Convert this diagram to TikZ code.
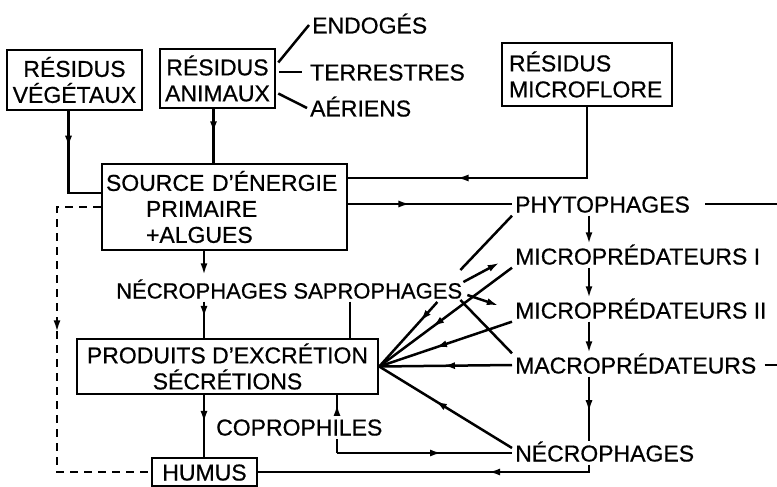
\documentclass[tikz,border=0pt]{standalone}
\usepackage{fontspec}
\setmainfont{Liberation Sans}[FakeBold=0.6]
\usetikzlibrary{arrows.meta, decorations.markings}
\newcommand{\lettering}{\fontsize{23}{26}\selectfont}
\tikzset{
    resbox/.style={
        rectangle, draw=black, line width=2.5pt, align=center,
        inner sep=3pt, font=\lettering
    },
    tag/.style={
        inner sep=3pt, text height=17pt, text depth=0pt, font=\lettering
    },
    link/.style={
        line width=2.5pt, draw=black
    },
    arrow/.style={
        link, -{Latex[length=12pt, width=7pt]}
    },
    midarrow/.style={
        link, postaction={decorate, solid},
        decoration={markings, mark=at position #1 with {\arrow{Latex[length=12pt, width=7pt]}}}
    },
    midarrow/.default=0.5,
    dashlink/.style={
        link, dash pattern=on 8pt off 6pt
    }
}
\begin{document}
\begin{tikzpicture}[x=1pt, y=-1pt]
    \useasboundingbox (0,0) rectangle (777,487);

    \node[resbox, minimum width=135pt, minimum height=60pt] (vege)  at (74.5,80)   {RÉSIDUS\\VÉGÉTAUX};
    \node[resbox, minimum width=115pt, minimum height=59pt] (ani)   at (217.5,78.5) {RÉSIDUS\\ANIMAUX};
    \node[resbox, minimum height=63pt, text width=156pt, inner xsep=7pt, align=left] (micro) at (587,74.5) {RÉSIDUS\\MICROFLORE};

    \node[tag, anchor=west] (endo) at (309,25)  {ENDOGÉS};
    \node[tag, anchor=west] (terr) at (307,72)  {TERRESTRES};
    \node[tag, anchor=west] (aer)  at (307,108) {AÉRIENS};

    \node[resbox, minimum width=245pt, minimum height=86pt, text width=237pt, align=left] (src) at (224.5,207)
        {SOURCE D'ÉNERGIE\\\hspace*{40pt}PRIMAIRE\\\hspace*{40pt}+ALGUES};
    \node[tag, anchor=west, font=\fontsize{22}{26}\selectfont] (necsap) at (113,290) {NÉCROPHAGES SAPROPHAGES};
    \node[resbox, minimum width=301pt, minimum height=55pt] (prod) at (227.5,366.5) {PRODUITS D'EXCRÉTION\\SÉCRÉTIONS};
    \node[resbox, tag, minimum width=105pt, minimum height=28pt] (humus) at (204.5,472) {HUMUS};

    \node[tag, anchor=west] (phyto) at (512,204) {PHYTOPHAGES};
    \node[tag, anchor=west] (micA)  at (512,256) {MICROPRÉDATEURS I};
    \node[tag, anchor=west] (micB)  at (512,310) {MICROPRÉDATEURS II};
    \node[tag, anchor=west] (macro) at (512,365) {MACROPRÉDATEURS};
    \node[tag, anchor=west] (necro) at (512,453) {NÉCROPHAGES};

    \coordinate (spine)  at (204,0);
    \coordinate (sapx)   at (350,0);
    \coordinate (lside)  at (57,0);
    \coordinate (colx)   at (589,0);
    \coordinate (coprox) at (337,0);
    \coordinate (rim)    at (777,0);

    % residues into the energy source
    \draw[midarrow=0.32] ([xshift=-6pt]vege.south) |- ([yshift=14pt]src.west);
    \draw[midarrow=0.45] ([xshift=-4pt]ani.south) -- ([xshift=-4pt]ani.south |- src.north);
    \draw[midarrow=0.65] (micro.south) |- ([yshift=29pt]src.east);
    \draw[link] ([shift={(2,-16)}]ani.east) -- (endo.west);
    \draw[link, shorten <=3pt, shorten >=5pt] (ani.east |- terr.west) -- (terr.west);
    \draw[link] ([shift={(2,15)}]ani.east) -- (aer.west);

    \draw[midarrow=0.38] (src.east |- phyto.west) -- (phyto.west);
    \draw[dashlink, midarrow=0.42] (src.west) -- (src.west -| lside) |- (humus.west);

    \draw[arrow, shorten >=3pt] (src.south -| spine) -- (necsap.north -| spine);
    \draw[midarrow=0.45] (necsap.south -| spine) -- (prod.north -| spine);
    \draw[link] (necsap.south -| sapx) -- (prod.north -| sapx);
    \draw[midarrow=0.45] (prod.south -| spine) -- (humus.north -| spine);

    % food chain column
    \draw[arrow] (phyto.south -| colx) -- (micA.north -| colx);
    \draw[arrow] (micA.south -| colx)  -- (micB.north -| colx);
    \draw[arrow] (micB.south -| colx)  -- (macro.north -| colx);
    \draw[midarrow=0.55] (macro.south -| colx) -- (necro.north -| colx);
    \draw[link, shorten <=12pt] (phyto.east) -- (phyto.east -| rim);
    \draw[link, shorten <=5pt] (macro.east) -- (macro.east -| rim);

    % fan towards the excretions
    \draw[link] (phyto.south west) -- ([shift={(-5,-20)}]necsap.east);
    \draw[arrow, shorten >=14pt] ([shift={(-2,-8)}]necsap.east) -- (micA.west);
    \draw[arrow, shorten >=14pt] ([shift={(2,5)}]necsap.east) -- (micB.west);
    \draw[link] ([shift={(-5,10)}]necsap.east) -- (macro.north west);
    \draw[midarrow=0.6]  (micA.south west) -- (prod.east);
    \draw[midarrow=0.3]  ([shift={(-28,12)}]necsap.east) -- (prod.east);
    \draw[midarrow=0.58] (micB.south west) -- (prod.east);
    \draw[midarrow=0.52] (macro.west) -- (prod.east);
    \draw[midarrow=0.58] ([shift={(0,-5)}]necro.west) -- (prod.east);

    % coprophiles and return to humus
    \draw[midarrow=0.6] (necro.west -| coprox) -- (necro.west);
    \draw[midarrow=0.85] (necro.west -| coprox) -- (prod.south -| coprox);
    \draw[midarrow=0.32] (necro.south -| colx) |- (humus.east);
    \node[tag, anchor=west, fill=white] (copro) at (213,427) {COPROPHILES};

\end{tikzpicture}
\end{document}
